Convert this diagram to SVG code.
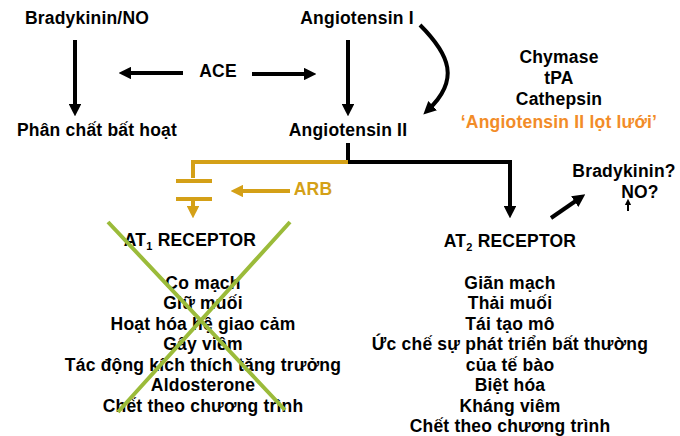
<svg xmlns="http://www.w3.org/2000/svg" width="680" height="436" viewBox="0 0 680 436">
<defs>
<style>
text{font-family:"Liberation Sans",Arial,sans-serif;font-weight:bold;font-size:17.5px;fill:#000;text-anchor:middle;letter-spacing:0.2px}
.k{stroke:#000;stroke-width:4;fill:none}
.g{stroke:#D4A017;stroke-width:4;fill:none}
</style>
<marker id="ah" viewBox="0 0 10 10" refX="5" refY="5" markerWidth="3.2" markerHeight="3.2" orient="auto"><path d="M0,0L10,5L0,10z" fill="#000"/></marker>
<marker id="ag" viewBox="0 0 10 10" refX="5" refY="5" markerWidth="3.2" markerHeight="3.2" orient="auto"><path d="M0,0L10,5L0,10z" fill="#D4A017"/></marker>
</defs>
<rect width="680" height="436" fill="#fff"/>
<g id="bradykinin"><text x="87" y="24">Bradykinin/NO</text></g>
<g id="ang1"><text x="357" y="24">Angiotensin I</text></g>
<g id="ace"><text x="218" y="77">ACE</text></g>
<g id="inactive"><text x="97" y="136">Phân chất bất hoạt</text></g>
<g id="ang2"><text x="348" y="136">Angiotensin II</text></g>
<g id="enzymes"><text x="559" y="63">Chymase</text><text x="559" y="84">tPA</text><text x="559" y="105">Cathepsin</text>
<text x="559" y="128" style="fill:#F28C28">‘Angiotensin II lọt lưới’</text></g>
<g id="arb"><text x="313" y="195" style="fill:#D4A017">ARB</text></g>
<g id="at1"><text x="190" y="246">AT<tspan font-size="11" dy="4">1</tspan><tspan dy="-4"> RECEPTOR</tspan></text>
<text x="203" y="289">Co mạch</text><text x="203" y="309">Giữ muối</text><text x="203" y="330">Hoạt hóa hệ giao cảm</text><text x="203" y="350">Gây viêm</text><text x="203" y="371">Tác động kích thích tăng trưởng</text><text x="203" y="391">Aldosterone</text><text x="203" y="412">Chết theo chương trình</text></g>
<g id="at2"><text x="510" y="247">AT<tspan font-size="11" dy="4">2</tspan><tspan dy="-4"> RECEPTOR</tspan></text>
<text x="510" y="289">Giãn mạch</text><text x="510" y="309">Thải muối</text><text x="510" y="330">Tái tạo mô</text><text x="510" y="350">Ức chế sự phát triển bất thường</text><text x="510" y="371">của tế bào</text><text x="510" y="391">Biệt hóa</text><text x="510" y="412">Kháng viêm</text><text x="510" y="432">Chết theo chương trình</text></g>
<g id="bnq"><text x="624" y="177">Bradykinin?</text><text x="640" y="198">NO?</text></g>
<g id="connectors">
<path class="k" d="M75,40V110" marker-end="url(#ah)"/>
<path class="k" d="M348,40V110" marker-end="url(#ah)"/>
<path class="k" d="M183,73H125" marker-end="url(#ah)"/>
<path class="k" d="M252,74H310" marker-end="url(#ah)"/>
<path class="k" d="M420,25C450,55 460,80 428,110" marker-end="url(#ah)"/>
<path class="k" d="M348,143V162H510V212" marker-end="url(#ah)"/>
<path class="k" d="M551,218L580,198" marker-end="url(#ah)"/>
<path d="M628,211V202" stroke="#000" stroke-width="2" marker-end="url(#ah)"/>
<path class="g" d="M348,162H193V178"/>
<path class="g" d="M176,181H212M176,199H212"/>
<path class="g" d="M193,199V212" marker-end="url(#ag)"/>
<path class="g" d="M290,191H237" marker-end="url(#ag)"/>
<path d="M108,222L285,410M290,222L118,412" stroke="#9BBB3A" stroke-width="4"/>
</g>
</svg>
